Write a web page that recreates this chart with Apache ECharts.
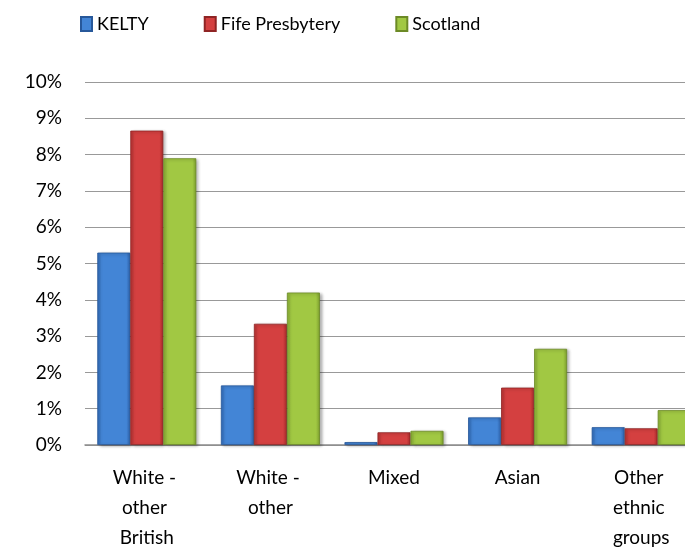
<!DOCTYPE html>
<html>
<head>
<meta charset="utf-8">
<script src="https://cdn.jsdelivr.net/npm/echarts@6/dist/echarts.min.js"></script>
<style>html,body{margin:0;padding:0;background:#fff}#c{width:685px;height:548px}</style>
</head>
<body>
<div id="c"></div>
<script>
var categories = ['White - other British', 'White - other', 'Mixed', 'Asian', 'Other ethnic groups'];
var seriesNames = ['KELTY', 'Fife Presbytery', 'Scotland'];
var kelty = [5.30, 1.64, 0.08, 0.76, 0.49];
var fife = [8.66, 3.34, 0.35, 1.58, 0.46];
var scotland = [7.90, 4.20, 0.39, 2.65, 0.96];
var yTicks = {min: 0, max: 10, interval: 1};

function grad(c1, c2, c3) {
  return new echarts.graphic.LinearGradient(0, 0, 1, 0, [
    {offset: 0, color: c1}, {offset: 0.12, color: c2}, {offset: 0.88, color: c2}, {offset: 1, color: c3}
  ]);
}
var styles = [
  {color: grad('#2f68b5', '#4385d6', '#2c5ea5'), borderColor: '#27589a'},
  {color: grad('#b53131', '#d44040', '#a32929'), borderColor: '#8f2424'},
  {color: grad('#88ad35', '#a1c843', '#7b9c2d'), borderColor: '#6c8a26'}
];
var datas = [kelty, fife, scotland];
var font = 'Lato';
var chart = echarts.init(document.getElementById('c'));
chart.setOption({
  animation: false,
  textStyle: {fontFamily: font},
  legend: {
    left: 80, top: 15, padding: 0,
    itemWidth: 11, itemHeight: 14, itemGap: 55,
    icon: 'rect',
    textStyle: {fontFamily: font, fontSize: 18, color: '#000'},
    data: seriesNames
  },
  grid: {left: 85, width: 618, top: 82, height: 363, containLabel: false, outerBoundsMode: 'none'},
  xAxis: {
    type: 'category',
    data: categories,
    axisLine: {show: true, lineStyle: {color: '#8c8c8c', width: 1.5}},
    axisTick: {show: false},
    axisLabel: {
      fontFamily: font, fontSize: 19, color: '#000', margin: 18, lineHeight: 30,
      width: 80, overflow: 'break', interval: 0
    }
  },
  yAxis: {
    type: 'value',
    min: yTicks.min, max: yTicks.max, interval: yTicks.interval,
    axisLine: {show: false},
    axisTick: {show: false},
    axisLabel: {fontFamily: font, fontSize: 19, color: '#000', margin: 23, formatter: '{value}%'},
    splitLine: {lineStyle: {color: '#999', width: 1.2}}
  },
  series: seriesNames.map(function (n, i) {
    return {
      name: n, type: 'bar', data: datas[i],
      barWidth: 33, barGap: '0%',
      itemStyle: {
        color: styles[i].color, borderColor: styles[i].borderColor, borderWidth: 0.8,
        shadowBlur: 3, shadowOffsetX: 2, shadowOffsetY: 1, shadowColor: 'rgba(0,0,0,0.3)'
      }
    };
  })
});
</script>
</body>
</html>
